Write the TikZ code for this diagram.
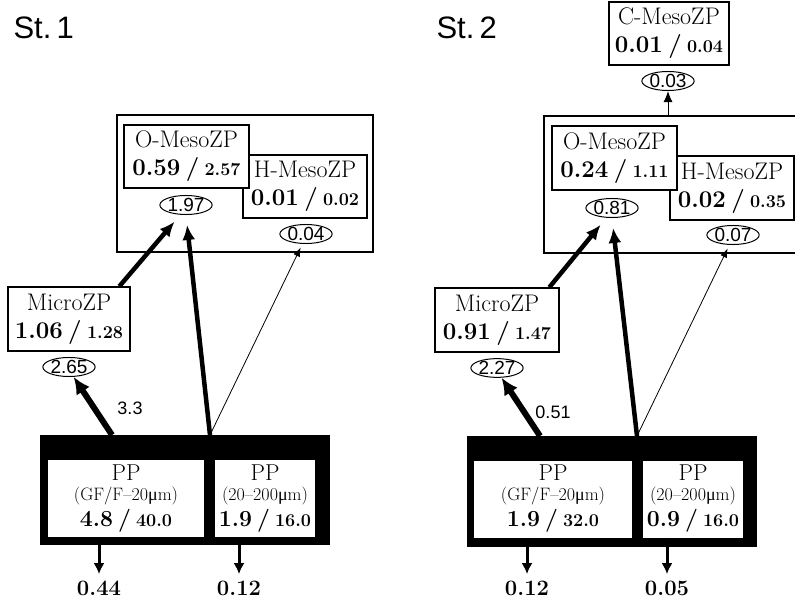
\documentclass[tikz,border=0pt]{standalone}
\usepackage{fontspec}
\setsansfont{Liberation Sans}
\newfontfamily\mufont{Liberation Serif}
\usetikzlibrary{shapes.geometric,arrows.meta}

\newcommand{\biom}[2]{\textbf{#1}\hspace{.22em}\textbf{/}\hspace{.22em}{\fontsize{18}{18}\selectfont\textbf{#2}}}
\newcommand{\um}{{\mufont μ}m}
\newcommand{\sizerange}[1]{{\fontsize{18}{18}\selectfont(#1)}}

\begin{document}
\begin{tikzpicture}
  [x=1pt, y=-1pt,
   title/.style={anchor=west, font=\sffamily\fontsize{31}{31}\selectfont},
   box/.style={draw, fill=white, line width=1.4pt, align=center, inner sep=0pt,
     minimum width=124pt, minimum height=63pt, font=\fontsize{24}{28}\selectfont},
   frame/.style={draw, line width=1.4pt, inner sep=0pt},
   pool/.style={fill=black, inner sep=0pt, minimum width=290pt, minimum height=110pt},
   ppbox/.style={fill=white, align=center, inner sep=0pt, minimum height=77pt,
     font=\fontsize{23}{25}\selectfont},
   flux/.style={ellipse, draw, line width=1pt, inner sep=0pt,
     font=\sffamily\fontsize{19}{19}\selectfont},
   gross/.style={font=\sffamily\fontsize{18}{18}\selectfont},
   loss/.style={font=\bfseries\fontsize{22}{22}\selectfont},
   bigflow/.style={line width=6pt, -{Latex[length=17pt,width=16pt]}},
   midflow/.style={line width=4.5pt, -{Latex[length=15pt,width=13pt]}},
   fineflow/.style={line width=0.8pt, -{Latex[length=9pt,width=7pt]}},
   lossflow/.style={line width=3pt, -{Latex[length=11pt,width=11pt]}}]
  \useasboundingbox (0,0) rectangle (795,599);

  % St. 1
  \node[title] (st1) at (10,28) {St.\,1};
  \node[frame, minimum width=256pt, minimum height=137pt] (meso1) at (245,183.5) {};
  \node[box] (hmeso1) at (305,186.5) {H-MesoZP\\\biom{0.01}{0.02}};
  \node[box, minimum width=125pt] (omeso1) at (186.5,156.5) {O-MesoZP\\\biom{0.59}{2.57}};
  \node[flux] (fo1) at (186,205) {1.97};
  \node[flux] (fh1) at (306,234) {0.04};
  \node[box, minimum width=122pt, minimum height=64pt] (micro1) at (69,319) {MicroZP\\\biom{1.06}{1.28}};
  \node[flux] (fm1) at (69,367) {2.65};
  \node[pool] (pp1) at (185,490) {};
  \node[ppbox, minimum width=156pt] (ppa1) at (126,498.5) {PP\\[-5pt]\sizerange{GF/F–20\um}\\[1pt]\biom{4.8}{40.0}};
  \node[ppbox, minimum width=100pt] (ppb1) at (265,498.5) {PP\\[-5pt]\sizerange{20–200\um}\\[1pt]\biom{1.9}{16.0}};
  \node[gross] (g1) at (130,408) {3.3};
  \node[loss] (la1) at (99,588) {0.44};
  \node[loss] (lb1) at (239,588) {0.12};
  \coordinate (src1) at (112,435);
  \coordinate (fork1) at (210,435);

  \draw[bigflow] (src1) -- (fm1.-65);
  \draw[midflow, shorten >=9pt] (micro1.33) -- (fo1.240);
  \draw[midflow, shorten >=10pt] (fork1) -- (fo1.south);
  \draw[fineflow, shorten >=4pt] (fork1) -- (fh1.250);

  % St. 2
  \node[title] (st2) at (433,28) {St.\,2};
  \node[box, minimum width=120pt] (cmeso2) at (669,33.5) {C-MesoZP\\\biom{0.01}{0.04}};
  \node[flux] (fc2) at (668,81) {0.03};
  \node[frame, minimum width=286pt, minimum height=137pt] (meso2) at (687,184.5) {};
  \node[box, minimum height=64pt] (hmeso2) at (732,188) {H-MesoZP\\\biom{0.02}{0.35}};
  \node[box, minimum width=125pt, minimum height=64pt] (omeso2) at (614.5,158) {O-MesoZP\\\biom{0.24}{1.11}};
  \node[flux] (fo2) at (612,208) {0.81};
  \node[flux] (fh2) at (733,235) {0.07};
  \node[box, minimum height=64pt] (micro2) at (497,320) {MicroZP\\\biom{0.91}{1.47}};
  \node[flux] (fm2) at (497,368) {2.27};
  \node[pool, minimum height=111pt] (pp2) at (612,491.5) {};
  \node[ppbox, minimum width=158pt] (ppa2) at (553,499) {PP\\[-5pt]\sizerange{GF/F–20\um}\\[1pt]\biom{1.9}{32.0}};
  \node[ppbox, minimum width=100pt] (ppb2) at (693,499) {PP\\[-5pt]\sizerange{20–200\um}\\[1pt]\biom{0.9}{16.0}};
  \node[gross] (g2) at (553,412) {0.51};
  \node[loss] (la2) at (527,588) {0.12};
  \node[loss] (lb2) at (667,588) {0.05};
  \coordinate (src2) at (540,436);
  \coordinate (fork2) at (637,436);

  \draw[bigflow] (src2) -- (fm2.-65);
  \draw[midflow, shorten >=9pt] (micro2.32) -- (fo2.240);
  \draw[midflow, shorten >=10pt] (fork2) -- (fo2.south);
  \draw[fineflow, shorten >=4pt] (fork2) -- (fh2.250);
  \draw[fineflow, line width=1pt, -{Latex[length=11pt,width=9pt]}] (meso2.north -| fc2) -- (fc2.south);

  \foreach \pool/\lab in {ppa1/la1,ppb1/lb1,ppa2/la2,ppb2/lb2}
  \draw[lossflow, shorten >=3pt] (\pool.south -| \lab) -- (\lab.north);

\end{tikzpicture}
\end{document}
